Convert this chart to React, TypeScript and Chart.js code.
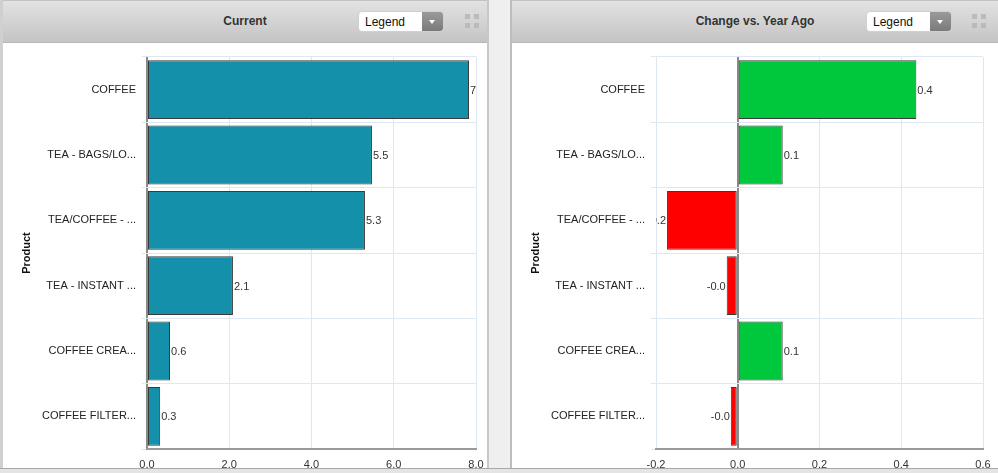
import React, { useEffect, useRef } from "react";
import { Chart, registerables } from "chart.js";

Chart.register(...registerables);

const categories = [
  "COFFEE",
  "TEA - BAGS/LO...",
  "TEA/COFFEE - ...",
  "TEA - INSTANT ...",
  "COFFEE CREA...",
  "COFFEE FILTER...",
];
const currentValues = [7.83, 5.47, 5.3, 2.09, 0.56, 0.32];
const changeValues = [0.437, 0.11, -0.173, -0.027, 0.11, -0.017];
const currentTicks = { min: 0, max: 8, step: 2 };
const changeTicks = { min: -0.2, max: 0.6, step: 0.2 };

const FONT = "'Liberation Sans', Arial, Helvetica, sans-serif";

const valueLabelPlugin = {
  id: "valueLabels",
  afterDatasetsDraw(chart: any) {
    const { ctx, chartArea } = chart;
    ctx.save();
    ctx.beginPath();
    ctx.rect(chartArea.left, chartArea.top, chartArea.right - chartArea.left, chartArea.bottom - chartArea.top);
    ctx.clip();
    ctx.font = `11px ${FONT}`;
    ctx.fillStyle = "#333";
    ctx.textBaseline = "middle";
    chart.data.datasets.forEach((ds: any, di: number) => {
      const meta = chart.getDatasetMeta(di);
      meta.data.forEach((el: any, i: number) => {
        const v = ds.data[i];
        const txt = v.toFixed(1);
        if (v >= 0) {
          ctx.textAlign = "left";
          ctx.fillText(txt, el.x + 1, el.y + 1);
        } else {
          ctx.textAlign = "right";
          ctx.fillText(txt, el.x - 1, el.y + 1);
        }
      });
    });
    ctx.restore();
  },
};

function BarChart(props: { values: number[]; colors: string[]; range: { min: number; max: number; step: number }; padRight: number }) {
  const ref = useRef<HTMLCanvasElement | null>(null);
  useEffect(() => {
    if (!ref.current) return;
    const chart = new Chart(ref.current, {
      type: "bar",
      data: {
        labels: categories,
        datasets: [
          {
            data: props.values,
            backgroundColor: props.colors,
            borderColor: "#3a3a3a",
            borderWidth: 1,
            borderSkipped: false,
            barPercentage: 0.9,
            categoryPercentage: 1,
          },
        ],
      },
      options: {
        indexAxis: "y",
        animation: false,
        responsive: false,
        maintainAspectRatio: false,
        layout: { padding: { top: 14, right: props.padRight, bottom: 0, left: 0 } },
        plugins: { legend: { display: false }, tooltip: { enabled: false }, title: { display: false } },
        scales: {
          x: {
            type: "linear",
            min: props.range.min,
            max: props.range.max,
            afterFit: (s: any) => {
              s.height = 24;
            },
            ticks: {
              stepSize: props.range.step,
              padding: 0,
              color: "#333",
              font: { family: FONT, size: 11 },
              callback: (v: any) => Number(v).toFixed(1),
            },
            grid: {
              drawTicks: true,
              tickLength: 9,
              tickColor: "rgba(0,0,0,0)",
              color: (c: any) => (c.tick && Math.abs(c.tick.value) < 1e-9 ? "#8a8a8a" : "#dde8f3"),
              lineWidth: (c: any) => (c.tick && Math.abs(c.tick.value) < 1e-9 ? 2 : 1),
            },
            border: { display: true, color: "#9a9a9a", width: 2 },
          },
          y: {
            type: "category",
            afterFit: (s: any) => {
              s.width = 144;
            },
            title: {
              display: true,
              text: "Product",
              color: "#111",
              font: { family: FONT, size: 11, weight: "bold" },
              padding: { top: 17, bottom: 0 },
            },
            ticks: {
              padding: 6,
              color: "#222",
              font: { family: FONT, size: 11 },
            },
            grid: {
              offset: true,
              color: "#dde8f3",
              tickLength: 5,
              drawTicks: true,
            },
            border: { display: false },
          },
        },
      },
      plugins: [valueLabelPlugin],
    } as any);
    return () => chart.destroy();
  }, []);
  return <canvas ref={ref} width={484} height={430} style={{ position: "absolute", left: 0, top: 0, width: 484, height: 430 }} />;
}

function Header(props: { title: string }) {
  return (
    <div
      style={{
        position: "absolute",
        left: 0,
        top: 0,
        right: 0,
        height: 41,
        background: "linear-gradient(#e2e2e2, #c4c4c4)",
        borderTop: "1px solid #c2c2c2",
        borderBottom: "1px solid #b8b8b8",
      }}
    >
      <div
        style={{
          position: "absolute",
          left: 0,
          right: 0,
          top: 13,
          textAlign: "center",
          font: `bold 12px ${FONT}`,
          color: "#333",
        }}
      >
        {props.title}
      </div>
    </div>
  );
}

function Dropdown(props: { left: number }) {
  return (
    <div
      style={{
        position: "absolute",
        left: props.left,
        top: 11,
        width: 86,
        height: 21,
        background: "#fff",
        borderRadius: 4,
        border: "1px solid #d0d0d0",
        boxSizing: "border-box",
        overflow: "hidden",
      }}
    >
      <div style={{ position: "absolute", left: 6, top: 3, font: `12px ${FONT}`, color: "#111" }}>Legend</div>
      <div
        style={{
          position: "absolute",
          right: 0,
          top: 0,
          width: 21,
          height: 21,
          background: "linear-gradient(#9a9a9a, #777)",
        }}
      >
        <div
          style={{
            position: "absolute",
            left: 7,
            top: 8,
            width: 0,
            height: 0,
            borderLeft: "3px solid transparent",
            borderRight: "3px solid transparent",
            borderTop: "4px solid #fff",
          }}
        />
      </div>
    </div>
  );
}

function ExpandIcon(props: { left: number }) {
  const sq = (l: number, t: number) => (
    <div style={{ position: "absolute", left: l, top: t, width: 5, height: 5, background: "#b5b5b5" }} />
  );
  return (
    <div style={{ position: "absolute", left: props.left, top: 14, width: 16, height: 16, opacity: 0.8 }}>
      {sq(0, 0)}
      {sq(9, 0)}
      {sq(0, 9)}
      {sq(9, 9)}
    </div>
  );
}

function Panel(props: { left: number; width: number; title: string; dropLeft: number; iconLeft: number; children: any }) {
  return (
    <div
      style={{
        position: "absolute",
        left: props.left,
        top: 0,
        width: props.width,
        height: 473,
        background: "#fff",
        overflow: "hidden",
      }}
    >
      <Header title={props.title} />
      <Dropdown left={props.dropLeft} />
      <ExpandIcon left={props.iconLeft} />
      <div style={{ position: "absolute", left: 0, top: 43, width: 484, height: 430 }}>{props.children}</div>
    </div>
  );
}

export default function App() {
  const currentColors = currentValues.map(() => "#1590aa");
  const changeColors = changeValues.map((v) => (v >= 0 ? "#00c83c" : "#ff0000"));
  return (
    <div style={{ position: "fixed", left: 0, top: 0, width: 998, height: 473, background: "#efefef", overflow: "hidden" }}>
      <div style={{ position: "absolute", left: 0, top: 0, width: 3, height: 473, background: "#d0d0d0" }} />
      <Panel left={3} width={484} title="Current" dropLeft={355} iconLeft={462}>
        <BarChart values={currentValues} colors={currentColors} range={currentTicks} padRight={11} />
      </Panel>
      <div style={{ position: "absolute", left: 487, top: 0, width: 2, height: 473, background: "#c8c8c8" }} />
      <div style={{ position: "absolute", left: 510, top: 0, width: 2, height: 473, background: "#bdbdbd" }} />
      <Panel left={512} width={486} title="Change vs. Year Ago" dropLeft={354} iconLeft={460}>
        <BarChart values={changeValues} colors={changeColors} range={changeTicks} padRight={13} />
      </Panel>
      <div style={{ position: "absolute", left: 0, top: 468, width: 998, height: 5, background: "#e4e4e4", borderTop: "1px solid #a8a8a8" }} />
    </div>
  );
}
